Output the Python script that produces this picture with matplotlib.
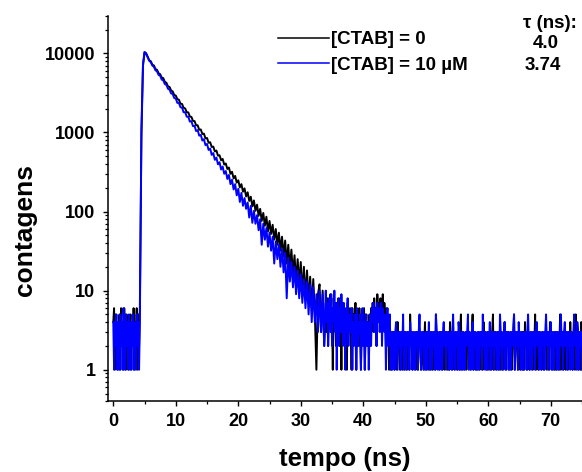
import numpy as np
import matplotlib
matplotlib.use('Agg')
import matplotlib.pyplot as plt
from matplotlib.ticker import MultipleLocator, LogLocator, NullFormatter, FuncFormatter

plt.rcParams['font.family'] = ['Liberation Sans', 'DejaVu Sans']
plt.rcParams['font.weight'] = 'bold'

# trechos: (inicio em ns, passo em ns)
PRE_START, PRE_STEP = 0.0, 0.125      # ruido antes do pulso
MAIN_START, MAIN_STEP = 4.5, 0.25     # subida + decaimento
TAIL_START, TAIL_STEP = 34.0, 0.125   # ruido de fundo

# ----------------------------------------------
#   [CTAB] = 0   (contagens)
# ----------------------------------------------
ctab0_pre = [4, 6, 1, 5, 2, 4, 1, 3, 5, 1, 6, 2, 4, 1, 6, 3, 1, 5, 2, 4,
             1, 3, 5, 1, 4, 2, 6, 1, 4, 3, 6, 1, 5, 2, 6]
ctab0_main = [
    900, 6900,
    10300, 10050, 9100, 8150, 7950, 7180, 7020, 6330,
    6180, 5590, 5450, 4930, 4860, 4350, 4240, 3820,
    3760, 3390, 3300, 2980, 2920, 2640, 2590, 2310,
    2290, 2050, 2010, 1800, 1790, 1590, 1570, 1400,
    1390, 1230, 1230, 1080, 1090, 955, 965, 840,
    850, 740, 752, 655, 662, 575, 590, 508,
    515, 445, 462, 392, 405, 345, 360, 300,
    318, 262, 282, 232, 248, 202, 222, 178,
    196, 155, 175, 136, 154, 116, 138, 102,
    122, 88, 108, 76, 96, 66, 86, 56,
    76, 52, 68, 44, 60, 38, 54, 32,
    48, 27, 43, 22, 38, 19, 33, 16,
    28, 13, 25, 12, 23, 9, 20, 8,
    18, 7, 15, 6, 14, 5, 1, 9,
    12, 3, 10, 2,
]
ctab0_tail = [
    7, 3, 8, 2, 6, 4, 9, 3, 5, 1, 8, 4, 6, 2, 7, 3, 5, 8, 2, 6, 1, 7, 4, 3, 6, 2, 5, 1, 7, 3, 4, 6,
    4, 1, 6, 2, 5, 3, 7, 1, 4, 5, 2, 6, 3, 1, 5, 4, 2, 6, 1, 3, 5, 2, 4, 3,
    5, 2, 6, 4, 7, 3, 8, 5, 6, 2, 9, 4, 7, 5, 8, 3, 6, 9, 4, 7, 5, 2, 6, 3, 5, 1, 4, 2,
    1, 3, 2, 3, 1, 2, 3, 1, 4, 2,
    3, 1, 2, 3, 1, 3, 2, 1, 3, 2,
    1, 3, 2, 1, 5, 2, 3, 1, 2, 3,
    2, 1, 3, 2, 1, 3, 2, 3, 1, 2,
    3, 1, 2, 4, 1, 3, 2, 1, 3, 2,
    1, 3, 2, 1, 3, 2, 1, 5, 2, 3,
    2, 1, 3, 2, 3, 1, 2, 3, 1, 2,
    3, 2, 1, 3, 1, 4, 2, 3, 1, 3,
    2, 1, 3, 2, 1, 3, 2, 1, 3, 5,
    1, 2, 3, 1, 2, 3, 1, 2, 3, 2,
    3, 1, 2, 3, 5, 1, 2, 3, 1, 2,
    1, 3, 2, 1, 3, 2, 3, 1, 4, 2,
    3, 2, 1, 3, 2, 1, 3, 2, 1, 3,
    5, 1, 2, 3, 1, 2, 3, 1, 3, 2,
    1, 3, 2, 1, 3, 4, 2, 1, 3, 2,
    3, 1, 2, 3, 1, 2, 3, 5, 1, 2,
    2, 3, 1, 2, 3, 1, 2, 3, 1, 3,
    1, 4, 2, 3, 1, 2, 3, 1, 2, 3,
    2, 1, 3, 2, 5, 1, 3, 2, 1, 3,
    3, 2, 1, 3, 2, 1, 3, 2, 3, 1,
    2, 3, 1, 4, 2, 3, 1, 2, 3, 1,
    3, 1, 2, 3, 1, 2, 5, 1, 3, 2,
    1, 3, 2, 1, 3, 2, 1, 3, 2, 4,
    2, 3, 1, 2, 3, 1, 5, 2, 3, 1,
    3, 2, 1, 4, 2,
]

# ----------------------------------------------
#   [CTAB] = 10 uM
# ----------------------------------------------
ctab10_pre = [4, 1, 4, 2, 5, 1, 3, 4, 1, 5, 2, 4, 1, 6, 3, 1, 5, 2, 4, 1,
              5, 3, 1, 4, 2, 5, 1, 4, 3, 1, 5, 2, 4, 1, 4]
ctab10_main = [
    1100, 7300,
    10400, 9800, 8900, 8050, 7700, 7000, 6750, 6100,
    5900, 5330, 5200, 4650, 4550, 4080, 3990, 3560,
    3480, 3110, 3070, 2720, 2680, 2360, 2360, 2080,
    2060, 1800, 1800, 1580, 1580, 1370, 1390, 1200,
    1210, 1040, 1070, 910, 930, 790, 820, 690,
    715, 600, 625, 520, 548, 450, 480, 395,
    420, 340, 370, 300, 325, 258, 290, 222,
    252, 190, 222, 160, 194, 132, 172, 118,
    148, 108, 130, 84, 118, 72, 102, 70,
    90, 58, 80, 38, 70, 44, 62, 36,
    54, 32, 48, 22, 42, 25, 38, 20,
    34, 17, 30, 8, 26, 13, 23, 11,
    20, 9, 18, 8, 16, 7, 14, 6,
    13, 5, 12, 4, 11, 4, 9, 3,
    10, 3, 9, 2,
]
ctab10_tail = [
    10, 4, 7, 2, 8, 5, 3, 9, 2, 6, 4, 10, 3, 7, 1, 5, 8, 2, 6, 3, 9, 4, 2, 7, 5, 1, 6, 3, 8, 2, 5, 4,
    3, 6, 1, 4, 2, 5, 3, 1, 6, 2, 4, 3, 5, 1, 3, 6, 2, 4, 1, 5, 3, 2, 4, 1,
    3, 5, 2, 6, 4, 7, 3, 5, 6, 2, 7, 4, 6, 3, 5, 7, 2, 6, 4, 3, 5, 1, 4, 6, 2, 3, 5, 1,
    3, 1, 2, 3, 1, 3, 4, 2, 1, 3,
    2, 3, 1, 3, 2, 5, 1, 3, 2, 1,
    3, 2, 3, 1, 4, 2, 3, 1, 3, 2,
    1, 3, 2, 3, 1, 3, 5, 2, 1, 3,
    2, 3, 1, 2, 3, 1, 3, 2, 4, 1,
    3, 2, 1, 3, 2, 3, 1, 5, 3, 1,
    2, 3, 1, 3, 2, 1, 3, 4, 2, 3,
    1, 3, 2, 3, 1, 2, 3, 1, 3, 5,
    2, 1, 3, 2, 3, 1, 4, 3, 1, 2,
    3, 1, 3, 2, 1, 3, 2, 3, 5, 1,
    3, 2, 1, 3, 4, 1, 3, 2, 3, 1,
    2, 3, 1, 3, 2, 3, 1, 5, 2, 3,
    1, 3, 2, 1, 3, 2, 4, 1, 3, 2,
    3, 1, 3, 2, 3, 1, 2, 3, 1, 5,
    3, 2, 1, 3, 2, 4, 1, 3, 2, 3,
    1, 2, 3, 1, 3, 2, 3, 5, 1, 3,
    2, 3, 1, 4, 2, 3, 1, 3, 2, 1,
    3, 2, 3, 1, 3, 5, 2, 1, 3, 2,
    1, 3, 2, 3, 1, 3, 4, 2, 3, 1,
    3, 2, 1, 3, 2, 3, 1, 3, 5, 2,
    3, 1, 3, 2, 4, 1, 3, 2, 1, 3,
    2, 3, 1, 3, 2, 1, 3, 5, 2, 3,
    1, 3, 4, 2, 3, 1, 3, 2, 3, 1,
    3, 2, 1, 3, 5, 2, 3, 1, 4, 3,
    1, 3, 2, 3, 1,
]

labels = ['[CTAB] = 0', '[CTAB] = 10 \u00b5M']
tau_values = ['4.0', '3.74']


def seg_time(start, step, values):
    return start + step * np.arange(len(values))


def series(pre, main, tail):
    t = np.concatenate([seg_time(PRE_START, PRE_STEP, pre),
                        seg_time(MAIN_START, MAIN_STEP, main),
                        seg_time(TAIL_START, TAIL_STEP, tail)])
    return t, np.array(pre + main + tail, dtype=float)


t0, ctab0 = series(ctab0_pre, ctab0_main, ctab0_tail)
t10, ctab10 = series(ctab10_pre, ctab10_main, ctab10_tail)

# ----------------------------------------------
#   figure
# ----------------------------------------------
fig = plt.figure(figsize=(5.82, 4.72), dpi=100)
ax = fig.add_axes([0.185, 0.150, 0.815, 0.817])

ax.plot(t0, ctab0, color='black', lw=1.4, label=labels[0])
ax.plot(t10, ctab10, color='#0000ff', lw=1.4, label=labels[1])

ax.set_yscale('log')
ax.set_xlim(-0.9, 75)
ax.set_ylim(0.4, 30000)

ax.xaxis.set_major_locator(MultipleLocator(10))
ax.xaxis.set_minor_locator(MultipleLocator(5))
ax.yaxis.set_major_locator(LogLocator(base=10))
ax.yaxis.set_minor_locator(LogLocator(base=10, subs=np.arange(2, 10)))
ax.yaxis.set_major_formatter(FuncFormatter(lambda v, p: f'{v:g}'))
ax.yaxis.set_minor_formatter(NullFormatter())

ax.tick_params(which='major', direction='out', length=3.8, width=1.0,
               labelsize=13, pad=5)
ax.tick_params(which='minor', direction='out', length=2.2, width=0.9)
for side in ['top', 'right']:
    ax.spines[side].set_visible(False)
for side in ['left', 'bottom']:
    ax.spines[side].set_linewidth(1.1)

ax.set_xlabel('tempo (ns)', fontsize=18.5, fontweight='bold')
ax.set_ylabel('contagens', fontsize=19, fontweight='bold')
ax.xaxis.set_label_coords(0.5, -0.118)
ax.yaxis.set_label_coords(-0.15, 0.444)

leg = ax.legend(loc='upper left', bbox_to_anchor=(278 / 582, 1 - 31 / 472),
                bbox_transform=fig.transFigure, frameon=False,
                prop={'size': 13.5, 'weight': 'bold'}, handlelength=2.7,
                handletextpad=0.15, labelspacing=0.45, borderpad=0,
                borderaxespad=0)
for h in leg.get_lines():
    h.set_linewidth(1.1)

# tempos de vida
fig.text(523 / 582, 1 - 23 / 472, '\u03c4 (ns):', fontsize=13.5, fontweight='bold',
         ha='left', va='center')
fig.text(533 / 582, 1 - 44 / 472, tau_values[0], fontsize=13.5, fontweight='bold',
         ha='left', va='center')
fig.text(525 / 582, 1 - 66 / 472, tau_values[1], fontsize=13.5, fontweight='bold',
         ha='left', va='center')

fig.savefig('out.png', dpi=100)
